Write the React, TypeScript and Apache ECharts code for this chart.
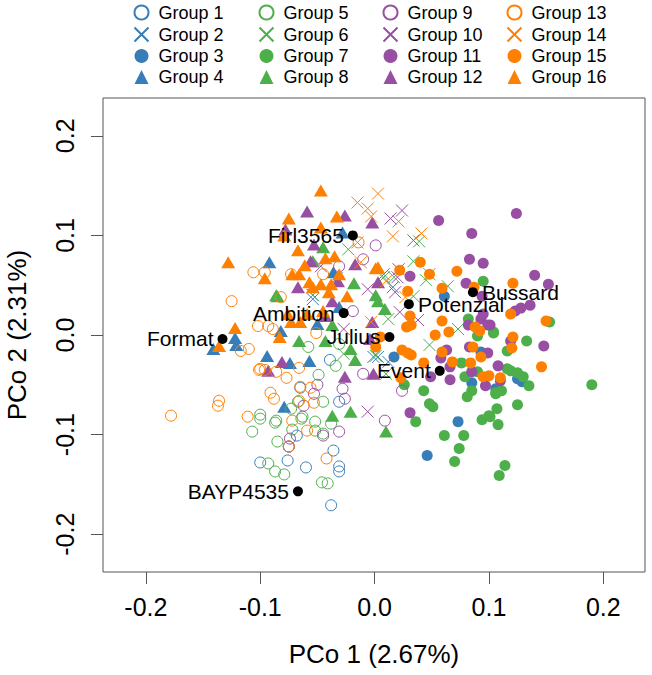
import React, { useEffect, useRef } from "react";
import * as echarts from "echarts";

type P = number[];
const group1: P[] = [[-0.039,-0.025],[-0.065,-0.053],[-0.031,-0.067],[-0.068,-0.101],[-0.1,-0.128],[-0.076,-0.126],[-0.06,-0.133],[-0.036,-0.116],[-0.031,-0.132],[-0.031,-0.137],[-0.038,-0.171],[-0.075,-0.112]];
const group2: P[] = [[-0.054,0.04],[0.008,0.061],[0.016,0.048],[0.003,-0.022],[0.012,-0.027],[-0.033,0.057],[-0.054,0.036],[-0.001,-0.022]];
const group3: P[] = [[0.073,-0.087],[0.046,-0.121],[0.017,-0.022],[0.061,0.039],[0.085,-0.048],[0.093,-0.017],[0.125,-0.044],[0.129,-0.047],[0.106,-0.054]];
const group4: P[] = [[-0.092,0.073],[-0.028,0.103],[-0.036,0.063],[-0.122,-0.003],[-0.121,-0.01],[-0.141,-0.014],[-0.082,0.004],[-0.094,-0.021],[-0.074,-0.028],[-0.057,-0.026],[-0.079,-0.072],[-0.05,0.011],[-0.031,0.028]];
const group5: P[] = [[-0.058,-0.012],[-0.034,-0.031],[-0.049,-0.04],[-0.045,-0.067],[-0.073,-0.074],[-0.067,-0.067],[-0.1,-0.08],[-0.086,-0.086],[-0.063,-0.082],[-0.031,-0.009],[-0.107,-0.097],[-0.087,-0.088],[-0.085,-0.107],[-0.072,-0.095],[-0.064,-0.084],[-0.052,-0.096],[-0.052,-0.087],[-0.045,-0.099],[-0.093,-0.129],[-0.087,-0.137],[-0.079,-0.14],[-0.046,-0.148],[-0.041,-0.149],[-0.038,-0.089],[-0.1,-0.084]];
const group6: P[] = [[-0.023,0.086],[0.039,0.094],[0.034,0.074],[0.048,0.061],[0.045,0.055],[0.064,0.049],[0.008,0.058],[0.017,0.058],[0.034,0.039],[0.012,0.016],[0.073,0.006],[0.048,-0.01],[0.001,-0.021],[0.01,-0.039],[-0.027,-0.019],[-0.054,0.04]];
const group7: P[] = [[0.095,0.054],[0.082,0.016],[0.104,0.003],[0.09,-0.001],[0.076,-0.028],[0.09,-0.037],[0.079,-0.042],[0.043,-0.056],[0.026,-0.05],[0.048,-0.069],[0.051,-0.072],[0.085,-0.056],[0.081,-0.062],[0.106,-0.059],[0.107,-0.074],[0.094,-0.085],[0.1,-0.081],[0.036,-0.087],[0.153,0.013],[0.104,0.002],[0.133,-0.006],[0.116,-0.016],[0.116,-0.034],[0.119,-0.036],[0.125,-0.038],[0.13,-0.042],[0.135,-0.051],[0.19,-0.05],[0.111,-0.056],[0.106,-0.058],[0.125,-0.07],[0.101,-0.082],[0.108,-0.09],[0.061,-0.101],[0.078,-0.101],[0.074,-0.114],[0.07,-0.127],[0.114,-0.131],[0.109,-0.141]];
const group8: P[] = [[-0.045,0.088],[-0.054,0.074],[-0.018,0.052],[-0.086,0.04],[0.001,0.04],[-0.085,0.039],[-0.066,-0.006],[-0.037,0.01],[-0.043,-0.006],[-0.021,-0.014],[-0.017,-0.025],[-0.037,-0.081],[-0.021,-0.077],[0.009,0.026],[0.01,-0.097],[0.003,0.034]];
const group9: P[] = [[0.001,0.09],[-0.01,0.076],[-0.031,0.069],[-0.019,0.024],[-0.01,-0.039],[-0.05,-0.05],[-0.053,-0.059],[-0.028,-0.054],[-0.026,-0.064],[-0.062,-0.071],[0.024,-0.056],[0.009,-0.086],[-0.074,-0.104],[-0.075,-0.112],[-0.045,-0.101],[-0.031,-0.097]];
const group10: P[] = [[0.024,0.125],[0.014,0.117],[0.034,0.095],[0.021,0.066],[0.018,0.043],[0.02,0.058],[-0.047,0.069],[-0.006,0.046],[0.022,0.023],[0.038,0.015],[-0.006,-0.077],[-0.027,0.006]];
const group11: P[] = [[0.056,0.115],[0.085,0.102],[0.083,0.076],[0.095,0.072],[0.031,0.059],[0.08,0.052],[0.094,0.039],[0.124,0.122],[0.14,0.06],[0.152,0.051],[0.136,0.03],[0.128,0.027],[0.123,0.024],[0.101,0.01],[0.093,0.016],[0.095,0.021],[0.082,0.01],[0.099,0.01],[0.063,-0.015],[0.058,-0.023],[0.083,-0.012],[0.099,-0.018],[0.108,-0.031],[0.049,-0.042],[0.066,-0.032],[0.066,-0.045],[0.085,-0.037],[0.097,-0.051],[0.031,-0.078],[0.119,-0.006],[0.148,-0.011],[0.11,-0.046]];
const group12: P[] = [[-0.059,0.124],[-0.026,0.12],[-0.002,0.113],[-0.078,0.106],[-0.053,0.091],[-0.056,0.074],[-0.017,0.071],[0.003,0.053],[-0.032,0.054],[-0.067,0.048],[-0.081,-0.027],[-0.093,-0.036],[-0.026,-0.042],[-0.037,0.034],[-0.043,0.019],[-0.004,-0.004],[-0.002,0.013],[-0.001,-0.039]];
const group13: P[] = [[-0.106,0.063],[-0.096,0.063],[-0.073,0.061],[-0.045,0.061],[-0.014,0.093],[-0.125,0.034],[-0.102,0.009],[-0.117,-0.016],[-0.11,-0.014],[-0.101,-0.035],[-0.136,-0.066],[-0.137,-0.071],[-0.178,-0.081],[-0.111,-0.082],[-0.093,0.009],[-0.089,0.006],[-0.051,0.002],[-0.1,-0.034],[-0.096,-0.035],[-0.086,-0.037],[-0.077,-0.043],[-0.066,-0.033],[-0.065,-0.052],[-0.056,-0.053],[-0.091,-0.058],[-0.088,-0.064],[-0.066,-0.066],[-0.053,-0.068],[-0.059,-0.096],[-0.072,-0.086],[-0.075,-0.112],[-0.042,-0.124],[-0.082,0.038]];
const group14: P[] = [[-0.015,0.133],[-0.006,0.127],[0.003,0.142],[-0.015,0.093],[0.021,0.114],[0.016,0.099],[0.041,0.102],[-0.003,0.119],[0.01,0.054],[0.027,0.038],[-0.003,0.013],[-0.012,0.073]];
const group15: P[] = [[0.04,0.073],[0.022,0.065],[0.048,0.061],[0.072,0.064],[0.059,0.047],[0.029,0.044],[0.087,0.048],[0.121,0.052],[0.119,0.021],[0.15,0.014],[0.031,0.019],[0.032,0.01],[0.028,0.008],[0.059,0.014],[0.053,0],[0.065,0.003],[0.088,0.008],[0.092,0.004],[0.005,-0.002],[0.001,-0.012],[0.024,-0.015],[0.029,-0.018],[0.032,-0.02],[0.059,-0.017],[0.086,-0.012],[0.093,-0.022],[0.068,-0.027],[0.084,-0.028],[0.043,-0.028],[0.023,-0.043],[0.095,-0.042],[0.1,-0.041],[0.121,-0.002],[0.12,-0.013],[0.146,-0.032],[0.11,-0.043]];
const group16: P[] = [[-0.047,0.145],[-0.075,0.117],[-0.033,0.119],[-0.079,0.1],[-0.047,0.108],[-0.067,0.085],[-0.043,0.077],[-0.035,0.079],[-0.061,0.07],[-0.072,0.061],[-0.066,0.061],[-0.031,0.061],[-0.096,0.057],[-0.057,0.053],[-0.047,0.051],[-0.038,0.051],[-0.054,0.048],[-0.04,0.043],[-0.024,0.039],[-0.128,0.073],[0.001,0.067],[0.003,0.068],[-0.122,0.007],[-0.136,-0.011],[-0.083,-0.002],[-0.073,0.013],[-0.065,0.013],[-0.045,0.024],[-0.076,0.021],[-0.059,0.021]];

const cultivarNames = ["Firl3565", "Bussard", "Potenzial", "Ambition", "Format", "Julius", "Event", "BAYP4535"];
const cultivarX = [-0.019, 0.086, 0.03, -0.027, -0.133, 0.013, 0.057, -0.067];
const cultivarY = [0.1, 0.043, 0.031, 0.022, -0.004, -0.002, -0.036, -0.157];
const cultivarSide = ["left", "right", "right", "left", "left", "left", "left", "left"];

const groups = [group1, group2, group3, group4, group5, group6, group7, group8, group9, group10, group11, group12, group13, group14, group15, group16];
const palette = ["#377EB8", "#4DAF4A", "#984EA3", "#FF7F00"];
const xTicks = [-0.2, -0.1, 0, 0.1, 0.2];
const yTicks = [-0.2, -0.1, 0, 0.1, 0.2];
const CROSS = "path://M0 0L10 10M10 0L0 10";
const FONT = "Liberation Sans";

function axis(extra: any, ticks: number[]) {
  return {
    type: "value",
    scale: true,
    nameLocation: "middle",
    nameTextStyle: { fontFamily: FONT, fontSize: 26, color: "#000" },
    splitLine: { show: false },
    axisLine: { show: false, onZero: false },
    axisTick: { show: true, length: 12, customValues: ticks, lineStyle: { color: "#555", width: 1 } },
    ...extra,
  };
}

export default function App() {
  const ref = useRef<HTMLDivElement>(null);
  useEffect(() => {
    document.body.style.margin = "0";
    const chart = echarts.init(ref.current!, undefined, { renderer: "svg" });
    const series: any[] = groups.map((data, i) => {
      const color = palette[Math.floor(i / 4)];
      const kind = i % 4;
      const base: any = { name: `Group ${i + 1}`, type: "scatter", data, silent: true, clip: false };
      if (kind === 0) return { ...base, symbol: "circle", symbolSize: 11, itemStyle: { color: "none", borderColor: color, borderWidth: 1, opacity: 1 } };
      if (kind === 1) return { ...base, symbol: CROSS, symbolSize: 12, itemStyle: { color: "none", borderColor: color, borderWidth: 1, opacity: 1 } };
      if (kind === 2) return { ...base, symbol: "circle", symbolSize: 11, itemStyle: { color, opacity: 1 } };
      return { ...base, symbol: "triangle", symbolSize: [14, 12], itemStyle: { color, opacity: 1 } };
    });
    series.push({
      name: "Cultivars",
      type: "scatter",
      silent: true,
      clip: false,
      z: 5,
      symbol: "circle",
      symbolSize: 10,
      itemStyle: { color: "#000", opacity: 1 },
      data: cultivarNames.map((name, i) => ({
        name,
        value: [cultivarX[i], cultivarY[i]],
        label: { show: true, position: cultivarSide[i], distance: 4, formatter: name, fontFamily: FONT, fontSize: 21, color: "#000" },
      })),
    });
    const legendLeft = [132, 257, 381, 505];
    const legends = legendLeft.map((left, c) => ({
      left,
      top: 3,
      padding: 0,
      orient: "vertical",
      itemWidth: 14,
      itemHeight: 14,
      itemGap: 3,
      selectedMode: false,
      data: [1, 2, 3, 4].map((r) => ({ name: `Group ${c * 4 + r}`, symbolSize: r === 4 ? 13 : 11 })),
      textStyle: { fontFamily: FONT, fontSize: 18, color: "#000", padding: [0, 0, 0, 5] },
    }));
    chart.setOption({
      animation: false,
      backgroundColor: "#fff",
      legend: legends,
      grid: { left: 103, right: 7, top: 98, bottom: 103, outerBoundsMode: "none", show: true, borderColor: "#555", borderWidth: 1, backgroundColor: "transparent" },
      xAxis: axis({
        min: -0.2375, max: 0.2365,
        name: "PCo 1 (2.67%)",
        nameGap: 69,
        axisLabel: { customValues: xTicks, margin: 22, formatter: (v: number) => v.toFixed(1), fontFamily: FONT, fontSize: 25, color: "#000", hideOverlap: false, showMinLabel: true, showMaxLabel: true },
      }, xTicks),
      yAxis: axis({
        min: -0.238, max: 0.238,
        name: "PCo 2 (2.31%)",
        nameGap: 73,
        nameRotate: 90,
        axisLabel: { customValues: yTicks, rotate: 90, margin: 26, formatter: (v: number) => v.toFixed(1), fontFamily: FONT, fontSize: 25, color: "#000" },
      }, yTicks),
      series,
    });
    return () => chart.dispose();
  }, []);
  return <div ref={ref} style={{ width: 652, height: 675 }} />;
}
